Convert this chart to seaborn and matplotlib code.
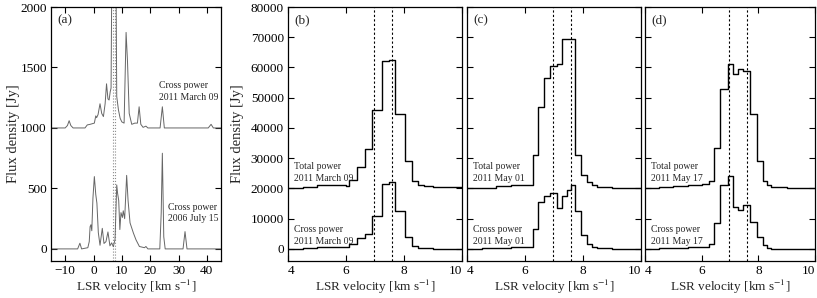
import matplotlib
matplotlib.use("Agg")
import matplotlib.pyplot as plt
import seaborn as sns

# --- panel (a): high resolution cross power spectra ---
vel_a_2011 = [-15, -10, -9.2, -8.6, -8.0, -7.2, -3, -2.2, -1.2, 0.3, 0.8, 1.1, 1.6, 2.3, 2.9, 3.5, 4.1,
              4.6, 5.1, 5.5, 5.9, 6.2, 6.5, 7.9, 8.2, 8.8, 9.4, 10.0, 10.8, 11.5, 12.0, 12.6, 13.5,
              14.6, 15.5, 16.1, 16.7, 17.5, 18.5, 19.2, 23.5, 24.3, 25.0, 40.5, 41.5, 42.3, 46]
flux_a_2011 = [1000, 1000, 1020, 1060, 1020, 1000, 1000, 1025, 1030, 1040, 1100, 1085, 1110, 1200, 1120,
               1094, 1200, 1365, 1240, 1231, 1300, 1330, 2400, 2400, 1260, 1150, 1080, 1050, 1040, 1790,
               1550, 1120, 1030, 1040, 1040, 1175, 1030, 1005, 1015, 1000, 1000, 1175, 1000, 1000, 1030,
               1000, 1000]

vel_a_2006 = [-15, -5.6, -4.8, -4.2, -2.0, -1.5, -1.2, -0.9, -0.6, -0.2, 0.3, 0.8, 1.2, 1.7, 2.3, 3.1,
              3.7, 4.4, 5.1, 5.8, 6.4, 7.0, 7.6, 8.2, 8.5, 8.9, 9.3, 9.7, 10.2, 10.5, 11.0, 11.7, 12.2,
              12.9, 14.1, 15.0, 16.2, 18.0, 18.5, 19.2, 23.4, 23.9, 24.3, 24.8, 25.3, 31.6, 32.3, 33.0, 46]
flux_a_2006 = [0, 0, 47, 0, 10, 60, 184, 200, 150, 420, 598, 450, 378, 135, 30, 170, 45, 60, 140, 25, 50, 18,
               78, 529, 460, 400, 160, 300, 260, 315, 250, 608, 400, 215, 130, 75, 20, 10, 20, 0, 0, 300,
               791, 100, 0, 0, 143, 0, 0]

# --- panels (b)-(d): total power / cross power spectra (step edges) ---
vel_b = [4.0, 4.5, 5.0, 5.5, 6.0, 6.11, 6.38, 6.67, 6.91, 7.23, 7.47, 7.70, 8.02, 8.26, 8.47, 8.7, 9.0,
         9.5, 10.0]
total_b = [20000, 20600, 21000, 21000, 20700, 22800, 27000, 33000, 46000, 62000, 62500, 44500, 29000,
           22500, 21000, 20800, 20600, 20500, 20500]
cross_b = [0, 300, 600, 600, 500, 1500, 3500, 5000, 11000, 21500, 22000, 12500, 4000, 1000, 300, 200, 100,
           0, 0]

vel_c = [4.0, 4.5, 5.0, 5.5, 6.0, 6.26, 6.45, 6.67, 6.86, 7.09, 7.28, 7.44, 7.60, 7.74, 7.93, 8.13, 8.31,
         8.49, 9.0, 9.5, 10.0]
total_c = [20000, 20300, 20700, 21000, 21200, 31000, 47000, 56500, 60500, 61000, 69500, 69500, 69500,
           31000, 24500, 22000, 21000, 20500, 20300, 20300, 20300]
cross_c = [0, 200, 400, 500, 700, 6500, 15500, 17500, 18500, 13500, 17500, 19500, 21000, 12500, 4500,
           1500, 500, 200, 0, 0, 0]

vel_d = [4.0, 4.5, 5.0, 5.5, 6.0, 6.25, 6.45, 6.66, 6.92, 7.11, 7.29, 7.47, 7.70, 7.94, 8.17, 8.32, 8.46,
         9.0, 9.5, 10.0]
total_d = [20000, 20400, 20800, 21200, 21600, 22500, 33500, 53000, 61000, 58000, 59500, 59000, 44500,
           29000, 22500, 21000, 20500, 20300, 20200, 20200]
cross_d = [0, 200, 400, 500, 600, 1500, 8500, 21000, 24000, 14000, 13000, 14500, 9000, 4000, 1200, 300,
           100, 0, 0, 0]

marker_vel = [6.96, 7.59]

panels = [
    ("(b)", vel_b, total_b, cross_b, "2011 March 09"),
    ("(c)", vel_c, total_c, cross_c, "2011 May 01"),
    ("(d)", vel_d, total_d, cross_d, "2011 May 17"),
]

sns.set_theme(style="ticks")
plt.rcParams['font.family'] = ['Liberation Serif', 'DejaVu Serif']
plt.rcParams['mathtext.fontset'] = 'stix'

W, H = 817, 298
fig = plt.figure(figsize=(W / 100, H / 100), dpi=100)

def px_axes(x0, x1, y0=7, y1=261):
    return fig.add_axes([x0 / W, 1 - y1 / H, (x1 - x0) / W, (y1 - y0) / H])

def style_axes(ax):
    ax.tick_params(direction='in', top=True, right=True, length=4, width=0.8,
                   labelsize=9.5, pad=3, colors='black')
    for sp in ax.spines.values():
        sp.set_linewidth(0.9)
        sp.set_color('black')
    ax.set_xlabel('LSR velocity [km s$^{-1}$]', fontsize=9.5)
    ax.xaxis.set_label_coords(0.5, -0.065)

# panel (a)
ax = px_axes(51, 221)
for v in marker_vel:
    ax.axvline(v, color='0.55', ls=':', lw=0.8)
sns.lineplot(x=vel_a_2011, y=flux_a_2011, ax=ax, color='0.4', lw=0.7, estimator=None, sort=False)
sns.lineplot(x=vel_a_2006, y=flux_a_2006, ax=ax, color='0.4', lw=0.7, estimator=None, sort=False)
ax.set_xlim(-15, 45)
ax.set_ylim(-100, 2000)
ax.set_xticks([-10, 0, 10, 20, 30, 40])
ax.set_yticks([0, 500, 1000, 1500, 2000])
style_axes(ax)
ax.set_ylabel('Flux density [Jy]', fontsize=10.5)
ax.yaxis.set_label_coords(-0.18, 0.5)
ax.text(0.035, 0.97, '(a)', transform=ax.transAxes, ha='left', va='top', fontsize=9.5)
ax.text(23.2, 1300, 'Cross power\n2011 March 09', fontsize=7, va='center', linespacing=1.35)
ax.text(26.3, 295, 'Cross power\n2006 July 15', fontsize=7, va='center', linespacing=1.35)

# panels (b)-(d)
bounds = [(288, 462), (467, 641), (645, 815)]
for i, ((tag, vel, total, cross, date), (x0, x1)) in enumerate(zip(panels, bounds)):
    ax = px_axes(x0, x1)
    for v in marker_vel:
        ax.axvline(v, color='black', ls=(0, (2, 2)), lw=0.8)
    sns.lineplot(x=vel, y=total, ax=ax, color='black', lw=1.0, drawstyle='steps-post',
                 estimator=None, sort=False)
    sns.lineplot(x=vel, y=cross, ax=ax, color='black', lw=1.0, drawstyle='steps-post',
                 estimator=None, sort=False)
    ax.set_xlim(4, 10)
    ax.set_ylim(-4000, 80000)
    ax.set_xticks([4, 6, 8, 10])
    ax.set_yticks(range(0, 80001, 10000))
    style_axes(ax)
    xl = ax.get_xticklabels()
    xl[0].set_horizontalalignment('left')
    xl[-1].set_horizontalalignment('right')
    if i == 0:
        ax.set_ylabel('Flux density [Jy]', fontsize=10.5)
        ax.yaxis.set_label_coords(-0.25, 0.5)
    else:
        ax.tick_params(labelleft=False)
        ax.set_ylabel('')
    ax.text(0.035, 0.97, tag, transform=ax.transAxes, ha='left', va='top', fontsize=9.5)
    ax.text(4.2, 25300, 'Total power\n' + date, fontsize=7, va='center', linespacing=1.35)
    ax.text(4.2, 4500, 'Cross power\n' + date, fontsize=7, va='center', linespacing=1.35)

fig.savefig('out.png', dpi=100)
